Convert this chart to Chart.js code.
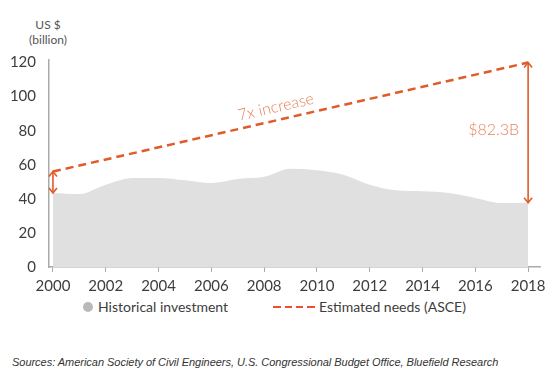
<!DOCTYPE html>
<html>
<head>
<meta charset="utf-8">
<script src="https://cdn.jsdelivr.net/npm/chart.js@4.4.1/dist/chart.umd.min.js"></script>
<style>
  body { margin: 0; background: #fff; width: 559px; height: 391px; position: relative; overflow: hidden; font-family: Lato, sans-serif; color: #3d3d3d; }
  #signalWrap { position: absolute; left: 0; top: 0; width: 559px; height: 296px; }
  .unit { position: absolute; left: 18px; top: 17px; width: 60px; text-align: center; font-size: 12px; line-height: 15px; color: #555; }
  .leg { position: absolute; top: 298px; font-size: 14px; line-height: 18px; white-space: nowrap; }
  .dot { position: absolute; left: 83px; top: 302px; width: 10px; height: 10px; border-radius: 50%; background: #b9b9b9; }
  .dash { position: absolute; left: 273px; top: 306px; width: 42px; height: 2px; background: repeating-linear-gradient(to right, #e8502e 0 7.5px, transparent 7.5px 11.5px); }
  .src { position: absolute; left: 12px; top: 356px; font: italic 11px "Liberation Sans", Arial, sans-serif; color: #333; white-space: nowrap; letter-spacing: -0.03px; }
</style>
</head>
<body>
<div class="unit">US $<br>(billion)</div>
<div id="signalWrap"><canvas id="needsChart" width="559" height="296"></canvas></div>
<div class="dot"></div>
<div class="leg" style="left:98px">Historical investment</div>
<div class="dash"></div>
<div class="leg" style="left:319px">Estimated needs (ASCE)</div>
<div class="src">Sources: American Society of Civil Engineers, U.S. Congressional Budget Office, Bluefield Research</div>
<script>
const years = [2000, 2001, 2002, 2003, 2004, 2005, 2006, 2007, 2008, 2009, 2010, 2011, 2012, 2013, 2014, 2015, 2016, 2017, 2018];
const historical = [43.5, 42.9, 48.3, 52.3, 52.3, 50.9, 49.3, 51.7, 52.9, 57.6, 56.8, 54.2, 48.3, 45.0, 44.4, 43.4, 40.5, 37.5, 37.7];
const needYears = [2000, 2018];
const needs = [56, 120];
const xTicks = [2000, 2002, 2004, 2006, 2008, 2010, 2012, 2014, 2016, 2018];
const yTicks = [0, 20, 40, 60, 80, 100, 120];

const orange = '#e05a2a';
const softOrange = '#e8845e';
const tickFont = { family: 'Lato', size: 15 };

function arrowHead(ctx, x, y, dir) {
  ctx.beginPath();
  ctx.moveTo(x - 4, y + dir * 5);
  ctx.lineTo(x, y);
  ctx.lineTo(x + 4, y + dir * 5);
  ctx.stroke();
}

function gapArrow(ctx, x, yTop, yBottom) {
  ctx.beginPath();
  ctx.moveTo(x, yTop);
  ctx.lineTo(x, yBottom);
  ctx.stroke();
  arrowHead(ctx, x, yTop, 1);
  arrowHead(ctx, x, yBottom, -1);
}

const notes = {
  id: 'notes',
  afterDatasetsDraw(chart) {
    const { ctx, scales: { x, y } } = chart;
    const last = years.length - 1;
    ctx.save();
    ctx.strokeStyle = orange;
    ctx.lineWidth = 1.6;
    gapArrow(ctx, x.getPixelForValue(years[0]), y.getPixelForValue(needs[0]), y.getPixelForValue(historical[0]));
    gapArrow(ctx, x.getPixelForValue(years[last]), y.getPixelForValue(needs[1]), y.getPixelForValue(historical[last]));

    // gap label
    const gap = needs[1] - historical[last];
    ctx.fillStyle = softOrange;
    ctx.font = '300 16px Lato';
    ctx.textAlign = 'right';
    ctx.textBaseline = 'middle';
    ctx.fillText('$' + gap.toFixed(1) + 'B', x.getPixelForValue(years[last]) - 9,
      y.getPixelForValue((needs[1] + historical[last]) / 2) - 3);

    // label along the needs line
    const x0 = x.getPixelForValue(needYears[0]), y0 = y.getPixelForValue(needs[0]);
    const x1 = x.getPixelForValue(needYears[1]), y1 = y.getPixelForValue(needs[1]);
    const ang = Math.atan2(y1 - y0, x1 - x0);
    const t = 0.475;
    ctx.translate(x0 + (x1 - x0) * t, y0 + (y1 - y0) * t);
    ctx.rotate(ang);
    ctx.textAlign = 'center';
    ctx.font = '300 16px Lato';
    ctx.fillText('7x increase', 0, -13);
    ctx.restore();
  }
};

const ctx = document.getElementById('needsChart').getContext('2d');
const chart = new Chart(ctx, {
  type: 'line',
  data: {
    datasets: [
      {
        label: 'Estimated needs (ASCE)',
        data: needYears.map((yr, i) => ({ x: yr, y: needs[i] })),
        borderColor: orange,
        borderWidth: 2.5,
        borderDash: [8, 5],
        pointRadius: 0,
        fill: false,
        order: 1,
      },
      {
        label: 'Historical investment',
        data: years.map((yr, i) => ({ x: yr, y: historical[i] })),
        backgroundColor: '#e0e0e0',
        borderWidth: 0,
        pointRadius: 0,
        fill: 'origin',
        cubicInterpolationMode: 'monotone',
        order: 2,
      },
    ],
  },
  options: {
    responsive: false,
    animation: false,
    layout: { padding: { top: 60, right: 19, bottom: 0, left: 0 } },
    plugins: { legend: { display: false }, tooltip: { enabled: false } },
    scales: {
      x: {
        type: 'linear',
        min: 1999.85,
        max: 2018.45,
        afterBuildTicks: (axis) => { axis.ticks = xTicks.map(v => ({ value: v })); },
        afterFit: (s) => { s.height = 29; },
        grid: { drawOnChartArea: false, drawTicks: true, tickLength: 5, color: '#aaa' },
        border: { color: '#aaa', width: 1.5 },
        ticks: { font: tickFont, color: '#3d3d3d', padding: 5, autoSkip: false, maxRotation: 0, callback: v => String(v) },
      },
      y: {
        min: 0,
        max: 121.5,
        afterBuildTicks: (axis) => { axis.ticks = yTicks.map(v => ({ value: v })); },
        afterFit: (s) => { s.width = 49; },
        grid: { display: false },
        border: { color: '#aaa', width: 1.5 },
        ticks: { font: tickFont, color: '#3d3d3d', padding: 5, callback: v => String(v) },
      },
    },
  },
  plugins: [notes],
});
</script>
</body>
</html>
